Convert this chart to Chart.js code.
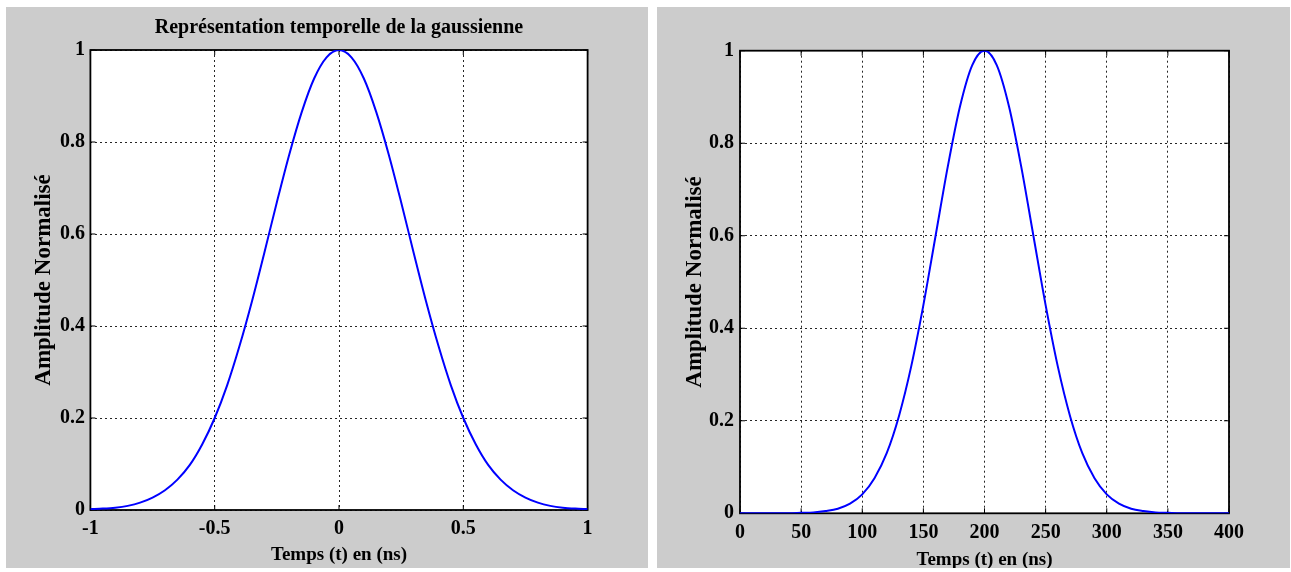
<!DOCTYPE html>
<html>
<head>
<meta charset="utf-8">
<script src="https://cdn.jsdelivr.net/npm/chart.js@4.4.1/dist/chart.umd.min.js"></script>
<style>
body { margin: 0; background: #fff; width: 1291px; height: 572px; overflow: hidden; }
.panel { position: absolute; background: #cccccc; }
#p1 { left: 6px; top: 7px; width: 642px; height: 561px; }
#p2 { left: 657px; top: 7px; width: 633px; height: 561px; }
canvas { display: block; }
</style>
</head>
<body>
<div class="panel" id="p1"><canvas id="graf1" width="642" height="561"></canvas></div>
<div class="panel" id="p2"><canvas id="graf2" width="633" height="561"></canvas></div>
<script>
// gaussienne centree (temps en ns, de -1 a 1)
var temps1 = [-1, -0.95, -0.9, -0.85, -0.8, -0.75, -0.7, -0.65, -0.6, -0.55, -0.5,
    -0.45, -0.4, -0.35, -0.3, -0.25, -0.2, -0.15, -0.1, -0.05, 0,
    0.05, 0.1, 0.15, 0.2, 0.25, 0.3, 0.35, 0.4, 0.45, 0.5,
    0.55, 0.6, 0.65, 0.7, 0.75, 0.8, 0.85, 0.9, 0.95, 1];
var ampl1 = [0.002, 0.003, 0.005, 0.009, 0.016, 0.027, 0.043, 0.066, 0.098, 0.143, 0.200,
    0.271, 0.357, 0.454, 0.560, 0.669, 0.773, 0.865, 0.938, 0.984, 1,
    0.984, 0.938, 0.865, 0.773, 0.669, 0.560, 0.454, 0.357, 0.271, 0.200,
    0.143, 0.098, 0.066, 0.043, 0.027, 0.016, 0.009, 0.005, 0.003, 0.002];

// gaussienne decalee (temps en ns, de 0 a 400)
var temps2 = [0, 10, 20, 30, 40, 50, 60, 70, 80, 90, 100,
    110, 120, 130, 140, 150, 160, 170, 180, 190, 200,
    210, 220, 230, 240, 250, 260, 270, 280, 290, 300,
    310, 320, 330, 340, 350, 360, 370, 380, 390, 400];
var ampl2 = [0, 0, 0, 0, 0, 0.001, 0.002, 0.005, 0.010, 0.021, 0.041,
    0.076, 0.130, 0.210, 0.317, 0.450, 0.600, 0.750, 0.880, 0.969, 1,
    0.969, 0.880, 0.750, 0.600, 0.450, 0.317, 0.210, 0.130, 0.076, 0.041,
    0.021, 0.010, 0.005, 0.002, 0.001, 0, 0, 0, 0, 0];

var titre = 'Représentation temporelle de la gaussienne';
var titreX = 'Temps (t) en (ns)';
var titreY = 'Amplitude Normalisé';
var ticksY = [0, 0.2, 0.4, 0.6, 0.8, 1];

var serif = '"Liberation Serif", "Times New Roman", serif';
Chart.defaults.color = '#000';
Chart.defaults.font.family = serif;

function points(xs, ys) {
    return xs.map(function (x, i) { return {x: x, y: ys[i]}; });
}

// libelles a la matlab : 1 et non 1.0
function libelle(v) {
    return String(+Number(v).toFixed(2));
}

// cadre blanc + bordure noire + petites graduations facon matlab
var cadre = {
    id: 'cadre',
    beforeDraw: function (chart) {
        var a = chart.chartArea, ctx = chart.ctx;
        ctx.save();
        ctx.fillStyle = '#fff';
        ctx.fillRect(a.left, a.top, a.right - a.left, a.bottom - a.top);
        ctx.restore();
    },
    beforeDatasetsDraw: function (chart) {
        var a = chart.chartArea, ctx = chart.ctx;
        var sx = chart.scales.x, sy = chart.scales.y;
        ctx.save();
        ctx.strokeStyle = '#000';
        ctx.lineWidth = 1;
        ctx.beginPath();
        sx.ticks.forEach(function (t) {
            var p = sx.getPixelForValue(t.value);
            ctx.moveTo(p, a.bottom); ctx.lineTo(p, a.bottom - 5);
            ctx.moveTo(p, a.top); ctx.lineTo(p, a.top + 5);
        });
        sy.ticks.forEach(function (t) {
            var p = sy.getPixelForValue(t.value);
            ctx.moveTo(a.left, p); ctx.lineTo(a.left + 5, p);
            ctx.moveTo(a.right, p); ctx.lineTo(a.right - 5, p);
        });
        ctx.stroke();
        ctx.lineWidth = 1.8;
        ctx.strokeRect(a.left, a.top, a.right - a.left, a.bottom - a.top);
        ctx.restore();
    }
};

function echelles(xmin, xmax, pas, largeurY, hauteurX, o) {
    return {
        x: {
            type: 'linear', min: xmin, max: xmax,
            afterFit: function (s) { s.height = hauteurX; },
            ticks: { stepSize: pas, padding: o.xTickPad, font: { size: 20, weight: 'bold' }, callback: libelle },
            grid: { color: 'rgba(0,0,0,0.85)', lineWidth: 1, drawTicks: false },
            border: { display: false, dash: [2, 3] },
            title: { display: true, text: titreX, font: { size: 19, weight: 'bold' },
                padding: { top: 0, bottom: o.xTitlePad } }
        },
        y: {
            type: 'linear', min: 0, max: 1,
            afterFit: function (s) { s.width = largeurY; },
            afterBuildTicks: function (s) { s.ticks = ticksY.map(function (v) { return {value: v}; }); },
            ticks: { padding: o.yTickPad, font: { size: 20, weight: 'bold' }, callback: libelle },
            grid: { color: 'rgba(0,0,0,0.85)', lineWidth: 1, drawTicks: false },
            border: { display: false, dash: [2, 3] },
            title: { display: true, text: titreY, font: { size: 23, weight: 'bold' },
                padding: { top: o.yTitlePad, bottom: 0 } }
        }
    };
}

var graf1 = new Chart(document.getElementById('graf1'), {
    type: 'line',
    data: {
        datasets: [{
            data: points(temps1, ampl1),
            borderColor: '#0000ff',
            borderWidth: 2,
            pointRadius: 0,
            cubicInterpolationMode: 'monotone',
            fill: false
        }]
    },
    options: {
        responsive: false,
        animation: false,
        layout: { padding: { left: 0, top: 0, right: 60.4, bottom: 0 } },
        plugins: {
            legend: { display: false },
            tooltip: { enabled: false },
            title: { display: true, text: titre, fullSize: false, font: { size: 20, weight: 'bold' },
                padding: { top: 9, bottom: 10 } }
        },
        scales: echelles(-1, 1, 0.5, 84.4, 58, { xTickPad: 6.5, xTitlePad: 1.2, yTickPad: 5.5, yTitlePad: 24 })
    },
    plugins: [cadre]
});

var graf2 = new Chart(document.getElementById('graf2'), {
    type: 'line',
    data: {
        datasets: [{
            data: points(temps2, ampl2),
            borderColor: '#0000ff',
            borderWidth: 2,
            pointRadius: 0,
            cubicInterpolationMode: 'monotone',
            fill: false
        }]
    },
    options: {
        responsive: false,
        animation: false,
        layout: { padding: { left: 0, top: 43.7, right: 61, bottom: 0 } },
        plugins: {
            legend: { display: false },
            tooltip: { enabled: false }
        },
        scales: echelles(0, 400, 50, 83, 54.7, { xTickPad: 7.2, xTitlePad: -3.8, yTickPad: 6, yTitlePad: 24.2 })
    },
    plugins: [cadre]
});
</script>
</body>
</html>
